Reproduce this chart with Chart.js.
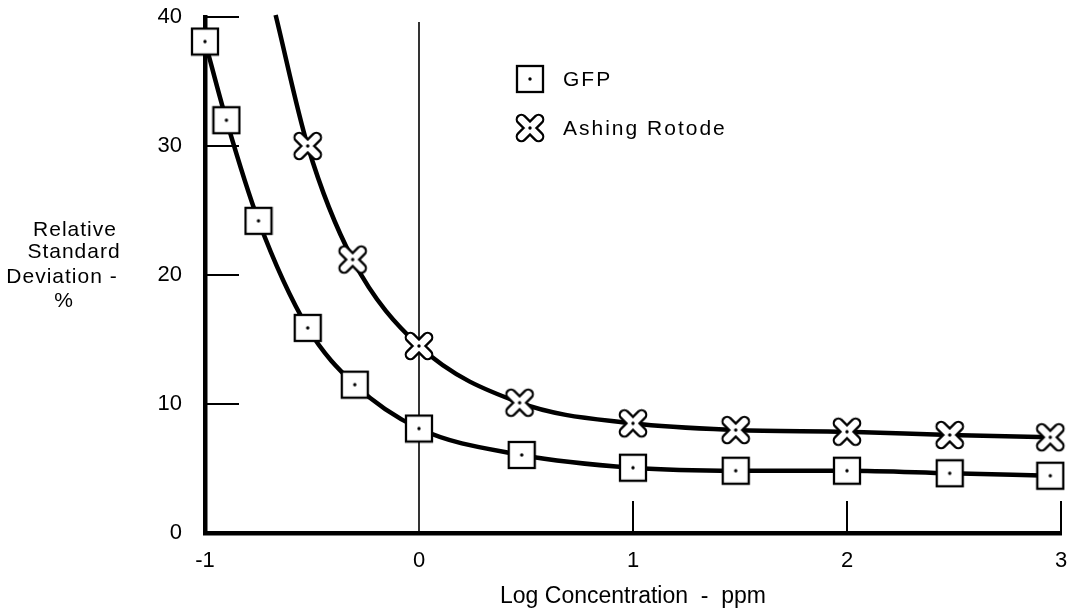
<!DOCTYPE html>
<html>
<head>
<meta charset="utf-8">
<script src="https://cdn.jsdelivr.net/npm/chart.js@4.4.1/dist/chart.umd.min.js"></script>
<style>
  html, body { margin: 0; padding: 0; background: #ffffff; }
  #wrap { width: 1070px; height: 616px; }
</style>
</head>
<body>
<div id="wrap"><canvas id="c" width="1070" height="616"></canvas></div>
<script>
// ---- data ----
const gfpX = [-1, -0.9, -0.75, -0.52, -0.3, 0, 0.48, 1, 1.48, 2, 2.48, 2.95];
const gfpY = [38.1, 32.0, 24.2, 15.9, 11.5, 8.1, 6.05, 5.06, 4.83, 4.83, 4.63, 4.44];
const ashX = [-0.67, -0.52, -0.31, 0, 0.47, 1, 1.48, 2, 2.48, 2.95];
const ashY = [40.15, 30.0, 21.2, 14.5, 10.1, 8.5, 7.98, 7.85, 7.6, 7.42];
const ashMarked = [false, true, true, true, true, true, true, true, true, true];
const xTicks = [-1, 0, 1, 2, 3];
const yTicks = [0, 10, 20, 30, 40];
const seriesNames = ['GFP', 'Ashing Rotode'];
const yTitleLines = ['Relative', 'Standard', 'Deviation -', '%'];
const xTitle = 'Log Concentration  -  ppm';

const FONT = "'Liberation Sans', Arial, Helvetica, sans-serif";

// ---- marker images ----
function squareMarker() {
  const c = document.createElement('canvas');
  c.width = 30; c.height = 30;
  const g = c.getContext('2d');
  g.fillStyle = '#fff';
  g.fillRect(2, 2, 26, 26);
  g.strokeStyle = '#000';
  g.lineWidth = 2.3;
  g.strokeRect(2, 2, 26, 26);
  g.fillStyle = '#000';
  g.beginPath(); g.arc(15, 15, 1.7, 0, Math.PI * 2); g.fill();
  return c;
}
function crossMarker() {
  const c = document.createElement('canvas');
  c.width = 34; c.height = 34;
  const g = c.getContext('2d');
  const m = 17, d = 8.6;
  function xpath() {
    g.beginPath();
    g.moveTo(m - d, m - d); g.lineTo(m + d, m + d);
    g.moveTo(m + d, m - d); g.lineTo(m - d, m + d);
  }
  g.lineCap = 'round';
  g.strokeStyle = '#000'; g.lineWidth = 11.5; xpath(); g.stroke();
  g.strokeStyle = '#fff'; g.lineWidth = 7; xpath(); g.stroke();
  g.fillStyle = '#000';
  g.beginPath(); g.arc(m, m, 1.7, 0, Math.PI * 2); g.fill();
  return c;
}
const sqImg = squareMarker();
const crImg = crossMarker();

// ---- plugins ----
const innerTicks = {
  id: 'innerTicks',
  beforeDatasetsDraw(chart) {
    const { ctx, chartArea: a, scales: { x, y } } = chart;
    ctx.save();
    ctx.strokeStyle = '#000';
    ctx.lineWidth = 2;
    yTicks.filter(v => v > 0).forEach(v => {
      const py = y.getPixelForValue(v);
      ctx.beginPath(); ctx.moveTo(a.left, py); ctx.lineTo(a.left + 34, py); ctx.stroke();
    });
    xTicks.filter(v => v > 0).forEach(v => {
      const px = x.getPixelForValue(v);
      ctx.beginPath(); ctx.moveTo(px, a.bottom); ctx.lineTo(px, a.bottom - 32); ctx.stroke();
    });
    const p0 = x.getPixelForValue(0);
    ctx.lineWidth = 1.6;
    ctx.beginPath(); ctx.moveTo(p0, a.top + 5); ctx.lineTo(p0, a.bottom); ctx.stroke();
    ctx.restore();
  }
};

const textExtras = {
  id: 'textExtras',
  afterDraw(chart) {
    const ctx = chart.ctx;
    ctx.save();
    ctx.fillStyle = '#000';
    ctx.textBaseline = 'middle';
    // legend
    ctx.font = '21px ' + FONT;
    ctx.letterSpacing = '2px';
    ctx.textAlign = 'left';
    const legend = [[sqImg, 79], [crImg, 128]];
    legend.forEach(([img, cy], i) => {
      ctx.drawImage(img, 530 - img.width / 2, cy - img.height / 2);
      ctx.fillText(seriesNames[i], 563, cy + 1);
    });
    // y-axis title (horizontal, stacked)
    ctx.font = '21px ' + FONT;
    ctx.letterSpacing = '1px';
    ctx.textAlign = 'center';
    const cx = [75, 74, 62, 64];
    const cy = [230, 252, 277.5, 301];
    yTitleLines.forEach((t, i) => ctx.fillText(t, cx[i], cy[i]));
    ctx.restore();
  }
};

function noPad(s) {
  s.paddingLeft = 0; s.paddingRight = 0; s.paddingTop = 0; s.paddingBottom = 0;
}

// ---- chart ----
const toPts = (xs, ys) => xs.map((v, i) => ({ x: v, y: ys[i] }));

new Chart(document.getElementById('c'), {
  type: 'line',
  data: {
    datasets: [
      {
        label: seriesNames[0],
        data: toPts(gfpX, gfpY),
        borderColor: '#000',
        borderWidth: 4.5,
        pointStyle: sqImg,
        pointRadius: 13,
        cubicInterpolationMode: 'monotone',
        clip: false,
        fill: false
      },
      {
        label: seriesNames[1],
        data: toPts(ashX, ashY),
        borderColor: '#000',
        borderWidth: 4.5,
        pointStyle: crImg,
        pointRadius: ashMarked.map(m => m ? 13 : 0),
        cubicInterpolationMode: 'monotone',
        clip: false,
        fill: false
      }
    ]
  },
  options: {
    responsive: false,
    animation: false,
    events: [],
    layout: { autoPadding: false, padding: { left: 0, right: 9, top: 17, bottom: 0 } },
    plugins: {
      legend: { display: false },
      tooltip: { enabled: false },
      title: { display: false }
    },
    scales: {
      x: {
        type: 'linear',
        min: -1, max: 3,
        afterFit: s => { s.height = 83; noPad(s); },
        afterBuildTicks: s => { s.ticks = xTicks.map(v => ({ value: v })); },
        grid: { display: false, drawTicks: false },
        border: { display: true, color: '#000', width: 4.5 },
        ticks: { color: '#000', font: { family: FONT, size: 22 }, padding: 15, maxRotation: 0, autoSkip: false },
        title: { display: true, text: xTitle, color: '#000', font: { family: FONT, size: 23 }, padding: { top: 0, bottom: 6 } }
      },
      y: {
        type: 'linear',
        min: 0, max: 40,
        afterFit: s => { s.width = 205; noPad(s); },
        afterBuildTicks: s => { s.ticks = yTicks.map(v => ({ value: v })); },
        grid: { display: false, drawTicks: false },
        border: { display: true, color: '#000', width: 4.5 },
        ticks: { color: '#000', font: { family: FONT, size: 22 }, padding: 23 },
        title: { display: false }
      }
    }
  },
  plugins: [innerTicks, textExtras]
});
</script>
</body>
</html>
